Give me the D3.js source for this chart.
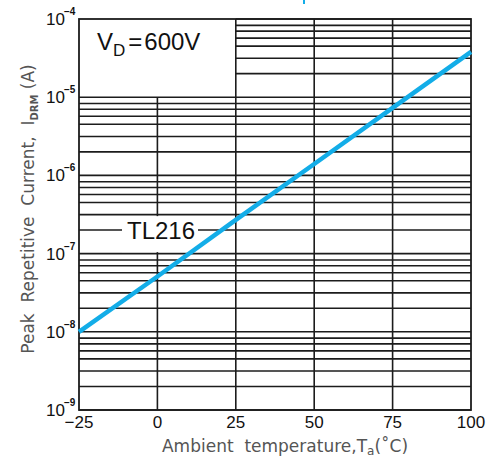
<!DOCTYPE html>
<html><head><meta charset="utf-8">
<script src="https://cdn.jsdelivr.net/npm/d3@7"></script>
<style>body{margin:0;background:#fff}svg{display:block}</style>
</head><body>
<svg id="c" width="487" height="466"></svg>
<script>
// data
const temps = [-25, 0, 25, 50, 75, 100];
const currents = [1e-8, 5.1e-8, 2.7e-7, 1.4e-6, 7.3e-6, 3.8e-5];
const xTicks = [-25, 0, 25, 50, 75, 100];
const yExponents = [-9, -8, -7, -6, -5, -4];
const minorMultipliers = [2, 3.15, 4.5, 5.7, 7, 8.3];
const seriesLabel = "TL216";
const conditionLabel = ["V", "D", "=", "600V"];

const svg = d3.select("#c");
const L = 79, R = 471, T = 19, B = 410;
const x = d3.scaleLinear().domain([-25, 100]).range([L, R]);
const y = d3.scaleLog().domain([1e-9, 1e-4]).range([B, T]);
const gridColor = "#1c1c1c";
const g = svg.append("g");

// horizontal grid
const hLines = [];
yExponents.forEach(e => {
  if (e < -4) minorMultipliers.forEach(m => hLines.push(m * Math.pow(10, e)));
  hLines.push(Math.pow(10, e));
});
hLines.forEach(v => {
  const inBox = v > 1.0001e-5;
  g.append("line")
    .attr("x1", inBox ? x(25) : L).attr("x2", R)
    .attr("y1", y(v)).attr("y2", y(v))
    .attr("stroke", gridColor).attr("stroke-width", 1.6);
});
// vertical grid
[0, 25, 50, 75].forEach(t => {
  g.append("line")
    .attr("x1", x(t)).attr("x2", x(t))
    .attr("y1", t === 0 ? y(1e-5) : T).attr("y2", B)
    .attr("stroke", gridColor).attr("stroke-width", 1.6);
});
// frame
g.append("rect").attr("x", L).attr("y", T).attr("width", R - L).attr("height", B - T)
  .attr("fill", "none").attr("stroke", gridColor).attr("stroke-width", 1.8);

// TL216 label with white background
const lblY = y(2e-7);
g.append("rect").attr("x", 122).attr("y", y(3.15e-7) + 1.5).attr("width", 76)
  .attr("height", y(1e-7) - y(3.15e-7) - 3).attr("fill", "#fff");
g.append("text").attr("x", 161).attr("y", lblY + 8.5).attr("text-anchor", "middle")
  .attr("font-family", "Liberation Sans, Arial, sans-serif").attr("font-size", 24)
  .attr("fill", "#111").text(seriesLabel);

// curve
const line = d3.line().x((d, i) => x(temps[i])).y(d => y(d));
svg.append("path").datum(currents).attr("d", line)
  .attr("fill", "none").attr("stroke", "#13ade8").attr("stroke-width", 4.5);

// small blue mark at top
svg.append("line").attr("x1", 304).attr("x2", 304).attr("y1", 0).attr("y2", 4)
  .attr("stroke", "#13ade8").attr("stroke-width", 2);

// VD=600V
const vt = svg.append("text").attr("x", 97).attr("y", 50)
  .attr("font-family", "Liberation Sans, Arial, sans-serif").attr("font-size", 24).attr("fill", "#111");
vt.append("tspan").text(conditionLabel[0]);
vt.append("tspan").attr("dy", 6).attr("font-size", 17).text(conditionLabel[1]);
vt.append("tspan").attr("dy", -6).attr("dx", 3).text(conditionLabel[2]);
vt.append("tspan").attr("dx", 2).text(conditionLabel[3]);

// y tick labels
yExponents.forEach(e => {
  const yy = y(Math.pow(10, e));
  svg.append("text").attr("x", 65).attr("y", yy + 6).attr("text-anchor", "end")
    .attr("font-family", "Liberation Sans, Arial, sans-serif").attr("font-size", 17).attr("fill", "#111")
    .text("10");
  svg.append("text").attr("x", 64).attr("y", yy - 4)
    .attr("font-family", "Liberation Sans, Arial, sans-serif").attr("font-size", 10).attr("font-weight", "bold").attr("fill", "#111")
    .text("\u2212" + Math.abs(e));
});
// x tick labels
xTicks.forEach(t => {
  svg.append("text").attr("x", x(t)).attr("y", 428).attr("text-anchor", "middle")
    .attr("font-family", "Liberation Sans, Arial, sans-serif").attr("font-size", 17).attr("fill", "#111")
    .text(t < 0 ? "\u2212" + Math.abs(t) : String(t));
});

// axis titles
const xt = svg.append("text").attr("x", 285).attr("y", 452).attr("text-anchor", "middle")
  .attr("font-family", "DejaVu Sans, sans-serif").attr("font-size", 17).attr("fill", "#555")
  .attr("xml:space", "preserve");
xt.append("tspan").text("Ambient  temperature,T");
xt.append("tspan").attr("dy", 3).attr("font-size", 12).text("a");
xt.append("tspan").attr("dy", -3).text("(\u02DAC)");

const yt = svg.append("text").attr("transform", "translate(34,209) rotate(-90)").attr("text-anchor", "middle")
  .attr("font-family", "DejaVu Sans, sans-serif").attr("font-size", 17).attr("fill", "#555")
  .attr("xml:space", "preserve");
yt.append("tspan").text("Peak  Repetitive  Current,  I");
yt.append("tspan").attr("dy", 4).attr("font-size", 10).attr("font-weight", "bold").text("DRM");
yt.append("tspan").attr("dy", -4).text(" (A)");
</script>
</body></html>
